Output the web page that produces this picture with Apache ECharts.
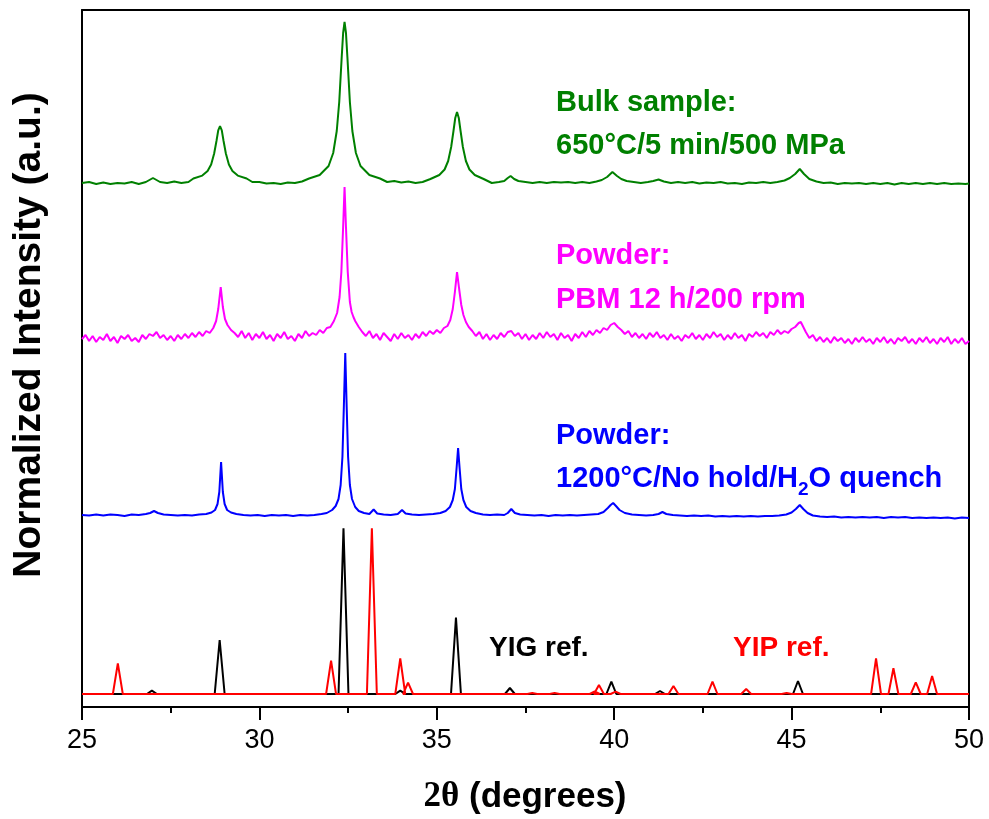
<!DOCTYPE html>
<html>
<head>
<meta charset="utf-8">
<script src="https://cdn.jsdelivr.net/npm/echarts@6/dist/echarts.min.js"></script>
<style>
  html, body { margin: 0; padding: 0; background: #fff; }
  #main { width: 989px; height: 819px; }
</style>
</head>
<body>
<div id="main"></div>
<script>
// offset-stacked XRD patterns, y in arbitrary (stacked) units
var bulk = [
  [25.0,524],[25.2,525],[25.4,523],[25.6,524.5],[25.8,523],[26.0,524],[26.2,523.5],[26.4,525],[26.6,523],[26.8,525],
  [26.9,527],[27.0,529],[27.1,527],[27.2,525],[27.4,524],[27.6,525.5],[27.8,524],[28.0,525],
  [28.14,528.5],[28.39,531.4],[28.54,536],[28.64,542.5],[28.725,553.5],[28.79,566],[28.84,576.6],[28.89,581],
  [28.94,576.6],[28.99,566],[29.055,553.5],[29.14,542.5],[29.24,536],[29.39,531.4],[29.64,528.5],
  [29.8,525],[30.0,525],[30.2,523.5],[30.4,524],[30.6,523],[30.8,524.5],[31.0,524],[31.2,525.5],
  [31.4,528.5],[31.7,532],[31.95,541],[32.08,554],[32.18,576],[32.25,605],[32.32,650],[32.36,674],[32.4,685],
  [32.44,674],[32.48,650],[32.55,605],[32.62,576],[32.72,554],[32.85,541],[33.1,532],[33.4,528.5],
  [33.6,525],[33.8,526],[34.0,524.5],[34.2,525.5],[34.4,524],[34.6,525],
  [34.82,528],[35.07,532],[35.22,537.5],[35.32,546],[35.405,560],[35.47,576],[35.52,589],[35.57,595],
  [35.62,589],[35.67,576],[35.735,560],[35.82,546],[35.92,537.5],[36.07,532],[36.32,528],
  [36.55,524],[36.75,525],[36.9,526],
  [37.0,529],[37.08,531],[37.18,528],[37.3,526],[37.5,525],[37.7,524],[37.9,525],[38.1,524],[38.3,525],[38.5,524.5],
  [38.7,525],[38.9,524],[39.1,525],[39.3,524],[39.5,525.5],[39.65,527],[39.8,530],[39.95,535],[40.08,531],[40.2,528],
  [40.35,526],[40.55,525],[40.75,524],[40.95,525],[41.1,526],[41.25,527.5],[41.4,525.5],[41.6,524],[41.8,525],[42.0,524],
  [42.2,525],[42.4,523.5],[42.6,524.5],[42.8,524],[43.0,525],[43.2,523.5],[43.4,524],[43.6,523],[43.8,524.5],[44.0,524],
  [44.2,525],[44.4,524],[44.6,525],[44.8,526.5],[44.95,529],[45.1,533],[45.23,538],[45.35,533],[45.5,528],[45.7,525.5],
  [45.9,524],[46.1,524.5],[46.3,523],[46.5,524],[46.7,523.5],[46.9,524],[47.1,523],[47.3,524],[47.5,523],[47.7,524],
  [47.9,522.5],[48.1,524],[48.3,523],[48.5,524],[48.7,523],[48.9,524],[49.1,523],[49.3,524],[49.5,523],[49.7,523.5],
  [49.9,523],[50.0,523.5]
];

var pbm = [
  [25.0,368],[25.1,372],[25.2,366],[25.3,371],[25.4,365],[25.5,370],[25.6,367],[25.7,373],[25.8,366],[25.9,370],
  [26.0,364],[26.1,371],[26.2,368],[26.3,372],[26.4,366],[26.5,369],[26.6,365],[26.7,372],[26.8,368],[26.9,373],
  [27.0,371],[27.1,375],[27.2,369],[27.3,372],[27.4,367],[27.5,371],[27.6,366],[27.7,372],[27.8,368],[27.9,373],
  [28.0,369],[28.1,374],[28.2,370],[28.3,375],[28.4,371],[28.5,376],[28.6,374],[28.7,379],[28.78,386],[28.84,398],
  [28.91,420],[28.97,400],[29.03,388],[29.1,382],[29.2,377],[29.3,374],[29.4,370],[29.5,376],[29.6,369],[29.7,374],
  [29.8,367],[29.9,373],[30.0,369],[30.1,375],[30.2,368],[30.3,372],[30.4,366],[30.5,373],[30.6,369],[30.7,375],
  [30.8,368],[30.9,371],[31.0,366],[31.1,373],[31.2,369],[31.3,376],[31.4,371],[31.5,374],[31.6,372],[31.7,377],
  [31.8,374],[31.9,379],[32.0,380],[32.1,386],[32.19,394],[32.26,410],[32.31,435],[32.36,480],[32.4,520],[32.44,480],
  [32.49,435],[32.55,405],[32.6,395],[32.65,390],[32.7,386],[32.8,380],[32.9,375],[33.0,371],[33.1,376],[33.2,369],
  [33.3,373],[33.4,367],[33.5,374],[33.6,370],[33.7,366],[33.8,373],[33.9,368],[34.0,374],[34.1,369],[34.2,372],
  [34.3,367],[34.4,373],[34.5,369],[34.6,375],[34.7,371],[34.8,376],[34.9,373],[35.0,377],[35.1,374],[35.2,379],
  [35.3,381],[35.38,387],[35.45,398],[35.51,415],[35.57,435],[35.63,418],[35.69,402],[35.75,392],[35.82,385],[35.9,380],
  [36.0,376],[36.1,371],[36.2,375],[36.3,368],[36.4,373],[36.5,367],[36.6,372],[36.7,368],[36.8,374],[36.9,370],
  [37.0,375],[37.1,376],[37.2,371],[37.3,374],[37.4,368],[37.5,373],[37.6,367],[37.7,372],[37.8,368],[37.9,374],
  [38.0,369],[38.1,375],[38.2,370],[38.3,373],[38.4,367],[38.5,374],[38.6,369],[38.7,372],[38.8,366],[38.9,373],
  [39.0,369],[39.1,375],[39.2,370],[39.3,376],[39.4,372],[39.5,377],[39.6,374],[39.7,379],[39.8,377],[39.9,382],
  [40.0,384],[40.1,380],[40.2,377],[40.3,373],[40.4,376],[40.5,370],[40.6,374],[40.7,369],[40.8,373],[40.9,368],
  [41.0,374],[41.1,370],[41.2,375],[41.3,369],[41.4,372],[41.5,367],[41.6,373],[41.7,368],[41.8,371],[41.9,366],
  [42.0,372],[42.1,369],[42.2,374],[42.3,368],[42.4,372],[42.5,367],[42.6,373],[42.7,369],[42.8,375],[42.9,370],
  [43.0,373],[43.1,367],[43.2,372],[43.3,368],[43.4,374],[43.5,369],[43.6,372],[43.7,366],[43.8,373],[43.9,370],
  [44.0,375],[44.1,371],[44.2,374],[44.3,369],[44.4,375],[44.5,372],[44.6,377],[44.7,373],[44.8,376],[44.9,374],
  [45.0,378],[45.1,380],[45.2,384],[45.26,385],[45.33,380],[45.4,375],[45.5,369],[45.6,372],[45.7,366],[45.8,370],
  [45.9,365],[46.0,369],[46.1,364],[46.2,370],[46.3,366],[46.4,369],[46.5,364],[46.6,368],[46.7,363],[46.8,369],
  [46.9,365],[47.0,370],[47.1,365],[47.2,368],[47.3,363],[47.4,369],[47.5,365],[47.6,370],[47.7,364],[47.8,368],
  [47.9,363],[48.0,369],[48.1,366],[48.2,370],[48.3,364],[48.4,368],[48.5,363],[48.6,369],[48.7,365],[48.8,370],
  [48.9,364],[49.0,368],[49.1,363],[49.2,369],[49.3,365],[49.4,370],[49.5,363],[49.6,368],[49.7,364],[49.8,369],
  [49.9,363],[50.0,366]
];

var quench = [
  [25.0,192],[25.2,191.5],[25.4,192.5],[25.6,191.5],[25.8,192.5],[26.0,192],[26.2,191],[26.4,192.5],[26.6,192],[26.8,193],
  [26.92,194],[27.03,196],[27.14,194],[27.3,192.5],[27.5,192],[27.7,191.5],[27.9,192],[28.1,191.5],[28.3,192.5],[28.5,193],
  [28.65,194.5],[28.75,197],[28.82,203],[28.87,215],[28.92,245],[28.97,215],[29.02,203],[29.09,197],[29.2,194.5],[29.35,193],
  [29.55,192],[29.75,191.5],[29.95,192],[30.15,191],[30.35,192],[30.55,191.5],[30.75,192],[30.95,191],[31.15,192],[31.35,191.5],
  [31.55,192],[31.75,193],[31.9,194],[32.05,197],[32.15,201],[32.23,208],[32.29,222],[32.34,250],[32.38,300],[32.42,354],
  [32.46,300],[32.5,250],[32.55,222],[32.61,208],[32.7,200],[32.8,196],[32.95,194],[33.1,193],[33.22,197.5],[33.32,193.5],
  [33.5,192.5],[33.7,192],[33.9,193],[34.02,197],[34.12,193.5],[34.3,192.5],[34.5,192],[34.7,192.5],[34.9,193],[35.1,194],
  [35.25,196],[35.37,200],[35.45,207],[35.51,218],[35.56,240],[35.6,259],[35.64,240],[35.69,218],[35.75,207],[35.83,200],
  [35.95,196],[36.1,194],[36.3,192.5],[36.5,192],[36.7,192.5],[36.9,192],[37.0,194],[37.1,198],[37.2,194],[37.35,192.5],
  [37.55,192],[37.75,191.5],[37.95,192],[38.15,191],[38.35,192],[38.55,191.5],[38.75,192],[38.95,191.5],[39.15,192],[39.35,192.5],
  [39.55,193],[39.7,195],[39.82,199],[39.9,202],[39.97,204],[40.05,201],[40.15,197],[40.3,194],[40.5,192.5],[40.7,192],
  [40.9,191.5],[41.1,192],[41.25,193],[41.36,195],[41.47,193],[41.65,192],[41.85,191.5],[42.05,191],[42.25,191.5],[42.45,191],
  [42.65,191.5],[42.85,190.5],[43.05,191],[43.25,190.5],[43.45,191],[43.65,190.5],[43.85,191],[44.05,190.5],[44.25,191],[44.45,191],
  [44.65,191.5],[44.85,192.5],[45.0,194.5],[45.12,198],[45.23,202],[45.33,198],[45.45,194],[45.6,191.5],[45.8,190.5],[46.0,190],
  [46.2,190.5],[46.4,189.5],[46.6,190],[46.8,189.5],[47.0,190],[47.2,189.5],[47.4,190],[47.6,189],[47.8,190],[48.0,189.5],
  [48.2,190],[48.4,189],[48.6,189.5],[48.8,189],[49.0,189.5],[49.2,189],[49.4,189.5],[49.6,188.5],[49.8,189.5],[50.0,189]
];

// reference patterns: [2theta, peak top]
var refBase = 13;
var yigPeaks = [
  [26.97,16.3],[28.88,67],[32.37,178.7],[33.97,16.3],[35.54,89.5],[37.06,19],[39.92,25.3],[41.29,16],[45.18,26]
];
var yipPeaks = [
  [26.01,43.7],[32.02,46.3],[33.17,178.7],[33.97,48.7],[34.19,24.3],[37.69,14],[38.32,14],[39.45,15.5],[39.57,22],
  [40.04,15.3],[41.67,21],[42.77,25.3],[43.72,18],[44.86,14],[47.38,48.7],[47.87,38.7],[48.50,24.7],[48.96,31]
];

var xTicks = { min: 25, max: 50, interval: 5 };

function stickLine(peaks, base, halfW) {
  var pts = [[xTicks.min, base]];
  peaks.forEach(function (p) {
    pts.push([p[0] - halfW, base], [p[0], p[1]], [p[0] + halfW, base]);
  });
  pts.push([xTicks.max, base]);
  return pts;
}

var FONT = 'Liberation Sans, Arial, sans-serif';
var chart = echarts.init(document.getElementById('main'));

function lineSeries(name, data, color) {
  return {
    name: name, type: 'line', data: data, showSymbol: false, silent: true,
    xAxisIndex: 0, yAxisIndex: 0,
    lineStyle: { color: color, width: 2 }
  };
}

function label(x, y, text, color) {
  return { type: 'text', x: x, y: y, style: { text: text, fill: color, font: 'bold 29px ' + FONT, textVerticalAlign: 'middle', verticalAlign: 'middle' } };
}

var option = {
  animation: false,
  backgroundColor: '#fff',
  grid: { left: 82, right: 20, top: 10, bottom: 112, containLabel: false },
  xAxis: [{
    type: 'value', position: 'bottom', min: xTicks.min, max: xTicks.max, interval: xTicks.interval,
    axisLine: { show: true, onZero: false, lineStyle: { color: '#000', width: 2 } },
    axisTick: { show: true, length: 13, lineStyle: { color: '#000', width: 2 } },
    minorTick: { show: true, splitNumber: 2, length: 6, lineStyle: { color: '#000', width: 2 } },
    axisLabel: { color: '#000', fontSize: 27, fontFamily: FONT, margin: 20 },
    splitLine: { show: false }
  }, {
    type: 'value', position: 'top', min: xTicks.min, max: xTicks.max,
    axisLine: { show: true, onZero: false, lineStyle: { color: '#000', width: 2 } },
    axisTick: { show: false }, axisLabel: { show: false }, splitLine: { show: false }
  }],
  yAxis: [{
    type: 'value', position: 'left', min: 0, max: 697,
    axisLine: { show: true, onZero: false, lineStyle: { color: '#000', width: 2 } },
    axisTick: { show: false }, axisLabel: { show: false }, splitLine: { show: false }
  }, {
    type: 'value', position: 'right', min: 0, max: 697,
    axisLine: { show: true, onZero: false, lineStyle: { color: '#000', width: 2 } },
    axisTick: { show: false }, axisLabel: { show: false }, splitLine: { show: false }
  }],
  series: [
    lineSeries('Bulk', bulk, '#008000'),
    lineSeries('PBM', pbm, '#ff00ff'),
    lineSeries('Quench', quench, '#0000ff'),
    lineSeries('YIG ref', stickLine(yigPeaks, refBase, 0.14), '#000000'),
    lineSeries('YIP ref', stickLine(yipPeaks, refBase, 0.14), '#ff0000')
  ],
  graphic: [
    label(556, 103, 'Bulk sample:', '#008000'),
    label(556, 146, '650°C/5 min/500 MPa', '#008000'),
    label(556, 256, 'Powder:', '#ff00ff'),
    label(556, 300, 'PBM 12 h/200 rpm', '#ff00ff'),
    label(556, 436, 'Powder:', '#0000ff'),
    { type: 'text', x: 556, y: 479, style: {
        text: '{a|1200°C/No hold/H}{s|2}{a|O quench}', fill: '#0000ff', textVerticalAlign: 'middle', verticalAlign: 'middle',
        rich: {
          a: { fill: '#0000ff', fontSize: 29, fontWeight: 'bold', fontFamily: FONT, lineHeight: 40 },
          s: { fill: '#0000ff', fontSize: 19, fontWeight: 'bold', fontFamily: FONT, lineHeight: 4, verticalAlign: 'bottom' }
        }
      } },
    { type: 'text', x: 489, y: 648, style: { text: 'YIG ref.', fill: '#000', font: 'bold 28px ' + FONT, textVerticalAlign: 'middle', verticalAlign: 'middle' } },
    { type: 'text', x: 733, y: 648, style: { text: 'YIP ref.', fill: '#ff0000', font: 'bold 28px ' + FONT, textVerticalAlign: 'middle', verticalAlign: 'middle' } },
    { type: 'text', x: 525, y: 797, style: {
        text: '{t|2θ}{u| (degrees)}', textAlign: 'center', align: 'center', textVerticalAlign: 'middle', verticalAlign: 'middle',
        rich: {
          t: { fill: '#000', fontSize: 35, fontWeight: 'bold', fontFamily: 'Liberation Serif, Times New Roman, serif' },
          u: { fill: '#000', fontSize: 35, fontWeight: 'bold', fontFamily: FONT }
        }
      } },
    { type: 'text', x: 29, y: 335, rotation: Math.PI / 2, style: {
        text: 'Normalized Intensity (a.u.)', fill: '#000', font: 'bold 39px ' + FONT,
        textAlign: 'center', align: 'center', textVerticalAlign: 'middle', verticalAlign: 'middle'
      } }
  ]
};

chart.setOption(option);
</script>
</body>
</html>
